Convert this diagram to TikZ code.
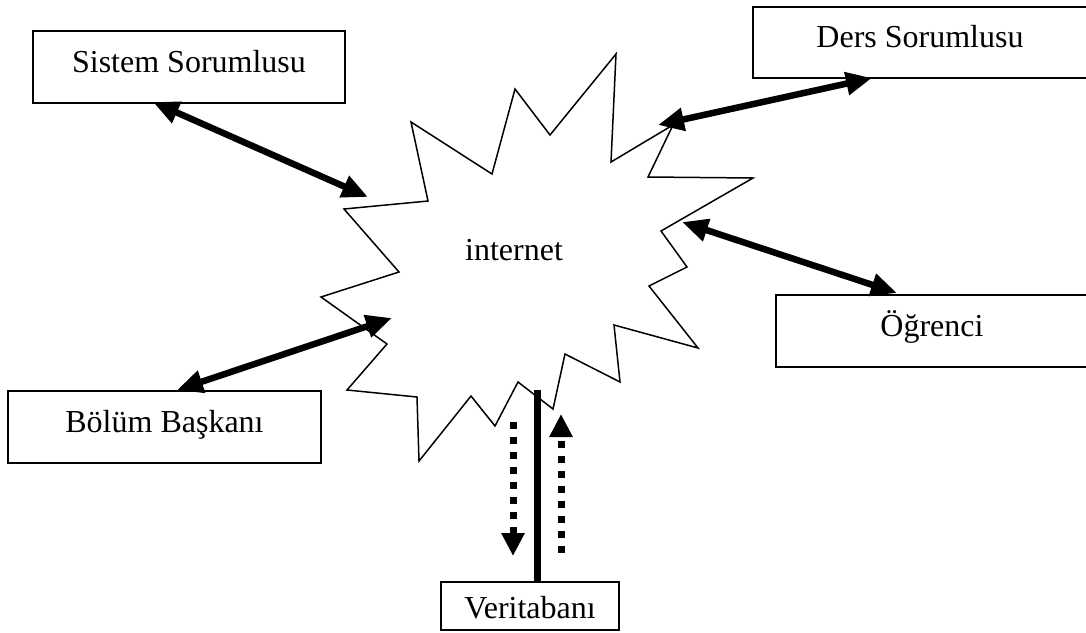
\documentclass[tikz,border=0pt]{standalone}
\usepackage{fontspec}
\setmainfont{Liberation Serif}
\usetikzlibrary{arrows.meta}
\begin{document}
\begin{tikzpicture}[x=1pt,y=-1pt,
  actor/.style={draw,line width=1.8pt,rectangle,inner sep=0pt,text height=11pt,text depth=1pt,
    font=\fontsize{32}{38}\selectfont},
  link/.style={line width=6.5pt,{Triangle[length=26pt,width=22pt]}-{Triangle[length=26pt,width=22pt]}},
  dotflow/.style={line width=7pt,dash pattern=on 7pt off 8pt,-{Triangle[length=23pt,width=22pt]}},
  burst/.style={draw,line width=1.5pt,line join=miter,fill=white}]
\path[use as bounding box] (0,0) rectangle (1086,632);
\clip (0,0) rectangle (1086,632);
% starburst
\path[burst] (411,122) -- (492,174) -- (515,89) -- (550,135) -- (616,54) -- (611,162)
  -- (673,125) -- (648,177) -- (753,178) -- (661,231) -- (687,267) -- (649,286)
  -- (698,348) -- (614,325) -- (620,382) -- (565,354) -- (553,409) -- (518,382)
  -- (495,426) -- (471,396) -- (419,461) -- (417,397) -- (347,390) -- (387,344)
  -- (321,297) -- (399,272) -- (344,209) -- (428,201) -- cycle;
\node[font=\fontsize{32}{38}\selectfont,anchor=base] (net) at (514,260) {internet};
% boxes
\node[actor,minimum width=312pt,minimum height=72pt] (sis) at (189,67) {Sistem Sorumlusu};
\node[actor,minimum width=334pt,minimum height=71pt] (ders) at (920,42.5) {Ders Sorumlusu};
\node[actor,minimum width=312pt,minimum height=72pt] (ogr) at (932,331) {Öğrenci};
\node[actor,minimum width=313pt,minimum height=72pt] (bol) at (164.5,427) {Bölüm Başkanı};
\node[actor,minimum width=178pt,minimum height=48pt,text height=24pt,text depth=0pt] (ver) at (530,606) {Veritabanı};
% connector end points
\coordinate (sisA) at (153,102);
\coordinate (sisB) at (368,197);
\coordinate (dersA) at (658,125);
\coordinate (dersB) at (872,78);
\coordinate (ogrA) at (682,222);
\coordinate (ogrB) at (897,293);
\coordinate (bolA) at (177,390);
\coordinate (bolB) at (392,318);
\coordinate (dbtop) at (537,390);
\coordinate (dnA) at (513,422);
\coordinate (dnB) at (513,556);
\coordinate (upA) at (561,553);
\coordinate (upB) at (561,414);
% connectors
\draw[link] (sisA) -- (sisB);
\draw[link] (dersA) -- (dersB);
\draw[link] (ogrA) -- (ogrB);
\draw[link] (bolA) -- (bolB);
\draw[line width=7pt] (dbtop) -- (dbtop |- ver.north);
\draw[dotflow] (dnA) -- (dnB);
\draw[dotflow] (upA) -- (upB);
\end{tikzpicture}
\end{document}
